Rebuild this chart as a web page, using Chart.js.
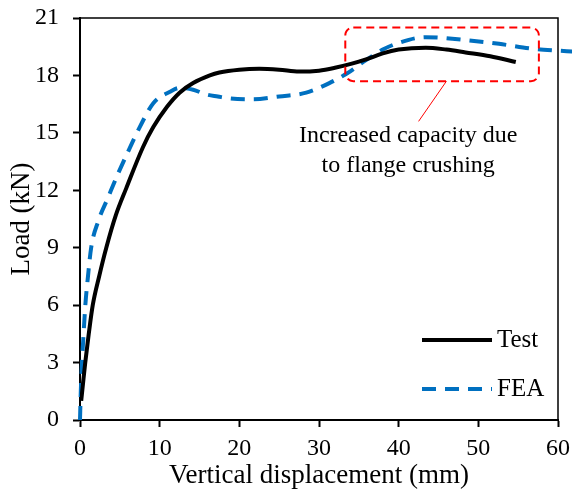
<!DOCTYPE html>
<html lang="en">
<head>
  <meta charset="UTF-8" />
  <title>Load vs vertical displacement</title>
  <script src="https://cdn.jsdelivr.net/npm/chart.js"></script>
  <style>
    html, body { margin: 0; padding: 0; background: #fff; }
    #wrap { width: 572px; height: 497px; }
  </style>
</head>
<body>
  <div id="wrap"><canvas id="loadChart"></canvas></div>

  <script>
    // Test curve (mm, kN)
    const testDisp = [0.15, 0.4, 0.66, 1.1, 1.6, 2.4, 3.3, 4.5, 5.8, 7.9, 9.2, 10.9, 12.5, 14.2, 16.3, 17.5, 20, 22.5, 25, 27.5, 30, 32, 34, 36, 38, 40, 43.4, 46, 48.4, 51.5, 54.7];
    const testLoad = [1.0, 2.0, 3.0, 4.5, 6.0, 7.5, 9.0, 10.7, 12.1, 14.25, 15.3, 16.35, 17.1, 17.6, 18.0, 18.15, 18.3, 18.35, 18.3, 18.2, 18.25, 18.4, 18.6, 18.85, 19.15, 19.35, 19.45, 19.35, 19.2, 19.0, 18.7];

    // FEA curve (mm, kN)
    const feaDisp = [0, 0.1, 0.25, 0.45, 0.67, 1.0, 1.4, 2.3, 3.5, 4.6, 5.9, 7.5, 9.2, 11.3, 12.5, 14.2, 15.9, 17.3, 18.8, 21.7, 25, 28.4, 31.3, 33.5, 35.9, 38, 40, 43.4, 48.4, 52.6, 56.7, 59.7, 61.8];
    const feaLoad = [0, 1.5, 3.0, 4.5, 6.0, 7.5, 9.0, 10.4, 11.6, 12.7, 13.9, 15.3, 16.55, 17.15, 17.35, 17.25, 17.0, 16.9, 16.8, 16.75, 16.9, 17.1, 17.6, 18.1, 18.8, 19.35, 19.7, 20.0, 19.85, 19.65, 19.4, 19.3, 19.25];

    const xTicks = [0, 10, 20, 30, 40, 50, 60];
    const yTicks = [0, 3, 6, 9, 12, 15, 18, 21];

    const FONT = "'Liberation Serif', 'Times New Roman', serif";

    const toPoints = (xs, ys) => xs.map((x, i) => ({ x: x, y: ys[i] }));

    // top/right frame lines
    const framePlugin = {
      id: 'frame',
      beforeDatasetsDraw(chart) {
        const { ctx, chartArea: a } = chart;
        ctx.save();
        ctx.strokeStyle = '#000';
        ctx.lineWidth = 1.5;
        ctx.beginPath();
        ctx.moveTo(a.left, a.top);
        ctx.lineTo(a.right, a.top);
        ctx.lineTo(a.right, a.bottom);
        ctx.stroke();
        ctx.restore();
      }
    };

    // red dashed box, leader line and note
    const notePlugin = {
      id: 'note',
      afterDatasetsDraw(chart) {
        const { ctx, scales: { x, y } } = chart;
        const x0 = x.getPixelForValue(33.3), x1 = x.getPixelForValue(57.6);
        const y0 = y.getPixelForValue(20.5), y1 = y.getPixelForValue(17.7);
        ctx.save();
        ctx.strokeStyle = '#ff0000';
        ctx.lineWidth = 2;
        ctx.setLineDash([8, 5]);
        ctx.beginPath();
        ctx.roundRect(x0, y0, x1 - x0, y1 - y0, 8);
        ctx.stroke();
        ctx.setLineDash([]);
        ctx.lineWidth = 1;
        ctx.beginPath();
        ctx.moveTo(x.getPixelForValue(46.0), y1);
        ctx.lineTo(x.getPixelForValue(42.5), y.getPixelForValue(15.6));
        ctx.stroke();

        ctx.fillStyle = '#000';
        ctx.font = '24px ' + FONT;
        ctx.textAlign = 'center';
        ctx.textBaseline = 'middle';
        const cx = x.getPixelForValue(41.2);
        ctx.fillText('Increased capacity due', cx, y.getPixelForValue(14.85));
        ctx.fillText('to flange crushing', cx, y.getPixelForValue(13.3));
        ctx.restore();
      }
    };

    // legend inside the plot, lower right
    const legendPlugin = {
      id: 'innerLegend',
      afterDraw(chart) {
        const { ctx, chartArea: a } = chart;
        const lx0 = a.right - 136, lx1 = a.right - 66;
        const rowY = [a.bottom - 80, a.bottom - 31];
        ctx.save();
        chart.data.datasets.forEach((ds, i) => {
          ctx.strokeStyle = ds.borderColor;
          ctx.lineWidth = ds.borderWidth;
          ctx.setLineDash(ds.borderDash || []);
          ctx.beginPath();
          ctx.moveTo(lx0, rowY[i]);
          ctx.lineTo(lx1, rowY[i]);
          ctx.stroke();
          ctx.setLineDash([]);
          ctx.fillStyle = '#000';
          ctx.font = '25px ' + FONT;
          ctx.textAlign = 'left';
          ctx.textBaseline = 'middle';
          ctx.fillText(ds.label, lx1 + 5, rowY[i]);
        });
        ctx.restore();
      }
    };

    new Chart(document.getElementById('loadChart'), {
      type: 'line',
      data: {
        datasets: [
          {
            label: 'Test',
            data: toPoints(testDisp, testLoad),
            borderColor: '#000000',
            borderWidth: 4,
            pointRadius: 0,
            cubicInterpolationMode: 'monotone',
            fill: false
          },
          {
            label: 'FEA',
            data: toPoints(feaDisp, feaLoad),
            borderColor: '#0070c0',
            borderWidth: 4,
            borderDash: [14, 9],
            pointRadius: 0,
            cubicInterpolationMode: 'monotone',
            fill: false,
            clip: false
          }
        ]
      },
      options: {
        responsive: true,
        maintainAspectRatio: false,
        animation: false,
        events: [],
        layout: { padding: 0 },
        plugins: {
          legend: { display: false },
          tooltip: { enabled: false }
        },
        scales: {
          x: {
            type: 'linear',
            min: 0,
            max: 60,
            afterFit(scale) {
              scale.height = 77;
              scale.paddingLeft = 0;
              scale.paddingRight = 14;
            },
            afterBuildTicks(scale) { scale.ticks = xTicks.map(v => ({ value: v })); },
            ticks: { color: '#000', font: { family: FONT, size: 24 }, padding: 7, maxRotation: 0 },
            grid: { drawOnChartArea: false, drawTicks: true, tickLength: 7, tickWidth: 2, tickColor: '#000' },
            border: { display: true, color: '#000', width: 2 },
            title: {
              display: true,
              text: 'Vertical displacement (mm)',
              color: '#000',
              font: { family: FONT, size: 27 },
              padding: { top: 0, bottom: 5 }
            }
          },
          y: {
            type: 'linear',
            min: 0,
            max: 21,
            afterFit(scale) {
              scale.width = 80;
              scale.paddingTop = 18;
              scale.paddingBottom = 0;
            },
            afterBuildTicks(scale) { scale.ticks = yTicks.map(v => ({ value: v })); },
            ticks: { color: '#000', font: { family: FONT, size: 24 }, padding: 14 },
            grid: { drawOnChartArea: false, drawTicks: true, tickLength: 7, tickWidth: 2, tickColor: '#000' },
            border: { display: true, color: '#000', width: 2 },
            title: {
              display: true,
              text: 'Load (kN)',
              color: '#000',
              font: { family: FONT, size: 27 },
              padding: { top: 6, bottom: 0 }
            }
          }
        }
      },
      plugins: [framePlugin, notePlugin, legendPlugin]
    });
  </script>
</body>
</html>
